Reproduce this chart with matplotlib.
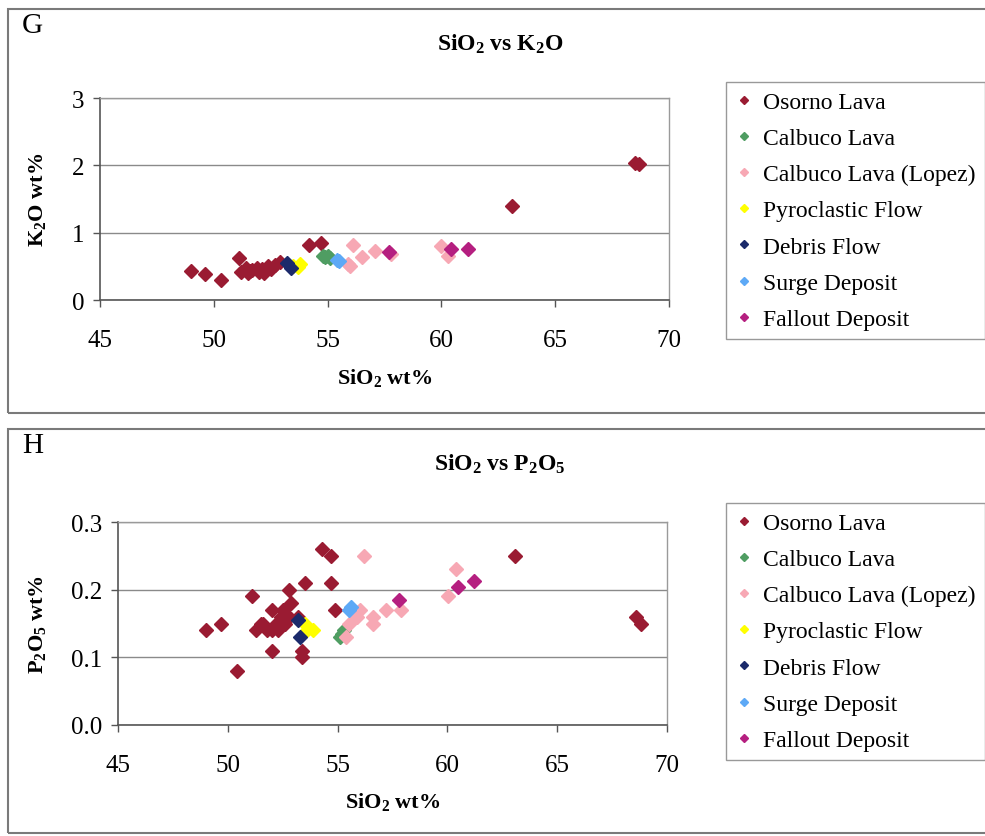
import matplotlib
matplotlib.use('Agg')
import matplotlib.pyplot as plt
from matplotlib.patches import Rectangle

plt.rcParams['font.family'] = 'Liberation Serif'
plt.rcParams['mathtext.fontset'] = 'custom'
plt.rcParams['mathtext.rm'] = 'Liberation Serif'
plt.rcParams['mathtext.bf'] = 'Liberation Serif:bold'
plt.rcParams['mathtext.default'] = 'regular'

# --- series names and colours ---
SERIES = ['Osorno Lava', 'Calbuco Lava', 'Calbuco Lava (Lopez)', 'Pyroclastic Flow',
          'Debris Flow', 'Surge Deposit', 'Fallout Deposit']
COLORS = ['#9A1B32', '#4F9D62', '#F7A8B4', '#FFFF00', '#1B2A6B', '#5DA9F6', '#B51F80']

# --- panel G: SiO2 vs K2O ---
osorno_si_k = [49.0, 49.6, 50.3, 51.1, 51.2, 51.4, 51.5, 51.6, 51.7, 51.9, 52.0, 52.1,
               52.2, 52.3, 52.4, 52.5, 52.7, 52.9, 54.2, 54.7, 63.1, 68.5, 68.7]
osorno_k2o = [0.43, 0.38, 0.29, 0.63, 0.42, 0.48, 0.40, 0.43, 0.45, 0.48, 0.42, 0.46,
              0.40, 0.44, 0.50, 0.46, 0.52, 0.56, 0.81, 0.85, 1.39, 2.04, 2.02]
calbuco_si_k = [54.8, 54.9, 55.0, 55.1]
calbuco_k2o = [0.66, 0.64, 0.65, 0.63]
lopez_si_k = [55.9, 56.0, 56.1, 56.5, 57.1, 57.8, 60.0, 60.3]
lopez_k2o = [0.53, 0.50, 0.81, 0.64, 0.73, 0.68, 0.80, 0.65]
pyro_si_k = [53.5, 53.7, 53.8]
pyro_k2o = [0.51, 0.49, 0.53]
debris_si_k = [53.2, 53.4]
debris_k2o = [0.55, 0.47]
surge_si_k = [55.4, 55.5]
surge_k2o = [0.60, 0.58]
fallout_si_k = [57.7, 60.4, 61.15]
fallout_k2o = [0.71, 0.76, 0.76]

# --- panel H: SiO2 vs P2O5 ---
osorno_si_p = [49.0, 49.7, 50.4, 51.1, 51.3, 51.5, 51.6, 51.8, 52.0, 52.0, 52.0, 52.2,
               52.4, 52.5, 52.3, 52.6, 52.8, 52.9, 52.8, 53.2, 53.5, 53.4, 53.4, 54.3,
               54.7, 54.7, 54.9, 63.1, 68.6, 68.8]
osorno_p2o5 = [0.14, 0.15, 0.08, 0.19, 0.14, 0.15, 0.15, 0.14, 0.11, 0.17, 0.14, 0.15,
               0.16, 0.17, 0.14, 0.15, 0.20, 0.18, 0.16, 0.16, 0.21, 0.11, 0.10, 0.26,
               0.25, 0.21, 0.17, 0.25, 0.16, 0.15]
calbuco_si_p = [55.1, 55.2, 55.3]
calbuco_p2o5 = [0.13, 0.135, 0.14]
lopez_si_p = [55.4, 55.5, 55.9, 56.0, 56.2, 56.6, 56.6, 57.2, 57.9, 60.05, 60.4]
lopez_p2o5 = [0.13, 0.15, 0.16, 0.17, 0.25, 0.16, 0.15, 0.17, 0.17, 0.19, 0.23]
pyro_si_p = [53.5, 53.6, 53.9]
pyro_p2o5 = [0.15, 0.14, 0.14]
debris_si_p = [53.2, 53.3]
debris_p2o5 = [0.155, 0.13]
surge_si_p = [55.5, 55.6]
surge_p2o5 = [0.17, 0.175]
fallout_si_p = [57.8, 60.5, 61.2]
fallout_p2o5 = [0.185, 0.204, 0.213]

K_DATA = [(osorno_si_k, osorno_k2o), (calbuco_si_k, calbuco_k2o), (lopez_si_k, lopez_k2o),
          (pyro_si_k, pyro_k2o), (debris_si_k, debris_k2o), (surge_si_k, surge_k2o),
          (fallout_si_k, fallout_k2o)]
P_DATA = [(osorno_si_p, osorno_p2o5), (calbuco_si_p, calbuco_p2o5), (lopez_si_p, lopez_p2o5),
          (pyro_si_p, pyro_p2o5), (debris_si_p, debris_p2o5), (surge_si_p, surge_p2o5),
          (fallout_si_p, fallout_p2o5)]

W, H = 985, 837
fig = plt.figure(figsize=(W / 100, H / 100), dpi=100)


def fx(px):
    return px / W


def fy(py):
    return 1 - py / H


def draw_panel(rect, data, yticks, yfmt, letter, title, ylabel, top, label_x, leg_top):
    ax = fig.add_axes(rect)
    for (xs, ys), name, col in zip(data, SERIES, COLORS):
        ax.plot(xs, ys, linestyle='none', marker='D', markersize=7,
                color=col, markeredgecolor=col, label=name, clip_on=False)
    ax.set_xlim(45, 70)
    ax.set_ylim(yticks[0], yticks[-1])
    ax.set_xticks([45, 50, 55, 60, 65, 70])
    ax.set_yticks(yticks)
    ax.set_yticklabels([yfmt.format(v) for v in yticks])
    ax.grid(axis='y', color='#8a8a8a', linewidth=1.0)
    ax.set_axisbelow(True)
    for s in ['left', 'bottom']:
        ax.spines[s].set_color('#555555')
        ax.spines[s].set_linewidth(1.2)
    for s in ['top', 'right']:
        ax.spines[s].set_color('#9a9a9a')
        ax.spines[s].set_linewidth(1.0)
    ax.tick_params(axis='x', direction='out', length=5, width=1, color='#555555',
                   labelsize=18, pad=16)
    ax.tick_params(axis='y', direction='out', length=5, width=1, color='#555555',
                   labelsize=18, pad=6)

    # panel frame
    fig.patches.append(Rectangle((fx(8), fy(top[1])), fx(1000) - fx(8), fy(top[0]) - fy(top[1]),
                                 transform=fig.transFigure, fill=False,
                                 edgecolor='#7a7a7a', linewidth=1.5))
    fig.text(fx(22), fy(top[0] + 16), letter, fontsize=21, ha='left', va='center')
    fig.text(fx(500), fy(top[0] + 34), title, fontsize=17, fontweight='bold',
             ha='center', va='center')
    fig.text(fx(37), rect[1] + rect[3] / 2, ylabel, fontsize=16, fontweight='bold',
             rotation=90, ha='center', va='center')
    fig.text(rect[0] + rect[2] / 2, fy(label_x), r'SiO$_2$ wt%', fontsize=16,
             fontweight='bold', ha='center', va='center')

    leg = ax.legend(loc='upper left', bbox_to_anchor=(fx(726), fy(leg_top)),
                    bbox_transform=fig.transFigure, fontsize=17, frameon=True,
                    fancybox=False, borderaxespad=0, markerscale=0.65,
                    handlelength=0.7, handletextpad=0.45, labelspacing=0.62,
                    borderpad=0.4)
    leg.get_frame().set_edgecolor('#808080')
    leg.get_frame().set_linewidth(1.0)
    return ax


draw_panel([fx(100), fy(301), fx(669) - fx(100), fy(99) - fy(301)], K_DATA,
           [0, 1, 2, 3], '{:d}', 'G', r'SiO$_2$ vs K$_2$O', r'K$_2$O wt%',
           (10, 414), 378, 83)
draw_panel([fx(118), fy(726), fx(667) - fx(118), fy(523) - fy(726)], P_DATA,
           [0.0, 0.1, 0.2, 0.3], '{:.1f}', 'H', r'SiO$_2$ vs P$_2$O$_5$',
           r'P$_2$O$_5$ wt%', (430, 834), 802, 504)

fig.savefig('out.png', dpi=100)
